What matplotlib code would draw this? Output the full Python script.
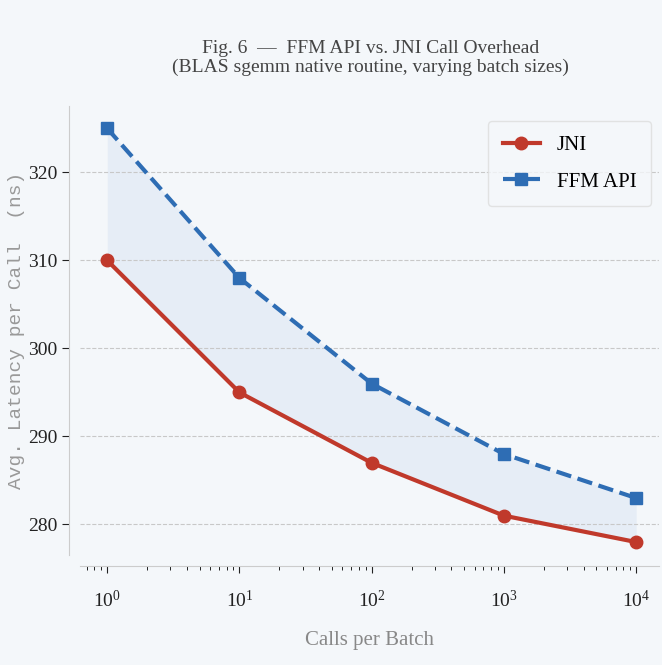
import numpy as np
import matplotlib.pyplot as plt

# data
batch_sizes = [1, 10, 100, 1000, 10000]
jni_ns = [310, 295, 287, 281, 278]
ffm_ns = [325, 308, 296, 288, 283]

bg = '#f4f7fa'
red = '#c0392b'
blue = '#2e6db4'

plt.rcParams['font.family'] = ['Liberation Serif', 'DejaVu Serif']

fig = plt.figure(figsize=(6.62, 6.65), dpi=100, facecolor=bg)
ax = fig.add_axes([0.121, 0.165, 0.874, 0.675], facecolor=bg)

ax.fill_between(batch_sizes, jni_ns, ffm_ns, color='#c8d8ee', alpha=0.3, lw=0)
ax.plot(batch_sizes, jni_ns, color=red, lw=3, marker='o', ms=9, label='JNI')
ax.plot(batch_sizes, ffm_ns, color=blue, lw=3, ls='--', marker='s', ms=9, label='FFM API')

ax.set_xscale('log')
ax.set_xlim(10 ** -0.205, 10 ** 4.17)
ax.set_ylim(276.5, 327.5)
ax.set_yticks([280, 290, 300, 310, 320])

ax.grid(axis='y', ls='--', color='#c8c8c8', lw=0.8)
ax.grid(axis='x', visible=False)

for s in ['top', 'right']:
    ax.spines[s].set_visible(False)
ax.spines['left'].set_position(('outward', 8))
ax.spines['bottom'].set_position(('outward', 8))
ax.spines['left'].set_color('#cccccc')
ax.spines['bottom'].set_color('#cccccc')
ax.tick_params(axis='both', labelsize=14, colors='#222222', length=5)
ax.tick_params(axis='x', which='both', pad=12)
ax.tick_params(axis='x', which='minor', length=3)

ax.set_xlabel('Calls per Batch', fontsize=15, color='#888888', labelpad=14)
ax.set_ylabel('Avg. Latency per Call  (ns)', fontsize=14, color='#999999',
              family='Liberation Mono', labelpad=2)

fig.suptitle('Fig. 6  —  FFM API vs. JNI Call Overhead\n(BLAS sgemm native routine, varying batch sizes)',
             x=0.56, y=0.94, fontsize=14, color='#444444', linespacing=1.15)

leg = ax.legend(loc='upper right', fontsize=15, frameon=True, borderpad=0.7,
                labelspacing=0.8, handlelength=1.8, bbox_to_anchor=(1.005, 0.99))
leg.get_frame().set_facecolor(bg)
leg.get_frame().set_edgecolor('#dddddd')

plt.savefig('out.png', dpi=100, facecolor=bg)
